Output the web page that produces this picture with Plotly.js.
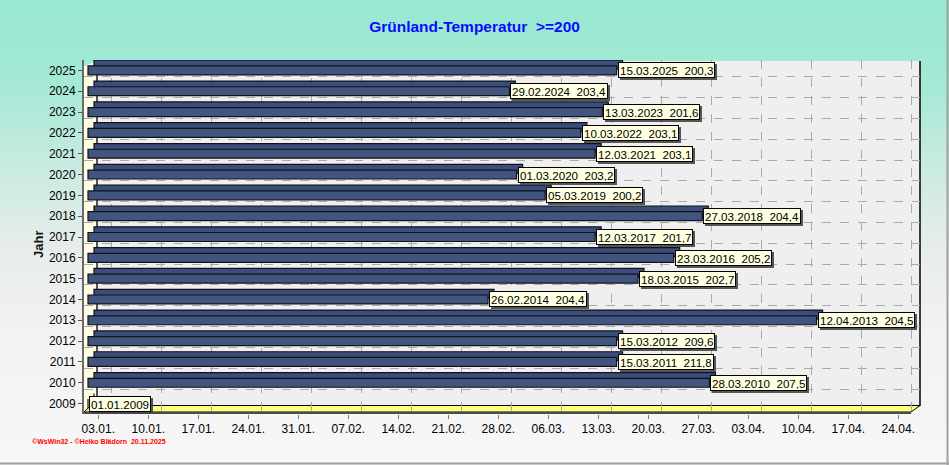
<!DOCTYPE html>
<html>
<head>
<meta charset="utf-8">
<script src="https://cdn.plot.ly/plotly-3.0.1.min.js"></script>
<style>
  html, body { margin: 0; padding: 0; }
  #chart {
    width: 949px; height: 465px;
    background: linear-gradient(to bottom, #98e8d1 0%, #a4e9d6 18%, #cdebe2 38%, #e9eded 55%, #f2f2f2 72%, #f7f7f7 100%);
  }
</style>
</head>
<body>
<div id="chart"></div>
<script>
// ---- data ----
const years = [2009, 2010, 2011, 2012, 2013, 2014, 2015, 2016, 2017, 2018, 2019, 2020, 2021, 2022, 2023, 2024, 2025];
const dates = ['01.01.2009', '28.03.2010', '15.03.2011', '15.03.2012', '12.04.2013', '26.02.2014', '18.03.2015',
               '23.03.2016', '12.03.2017', '27.03.2018', '05.03.2019', '01.03.2020', '12.03.2021', '10.03.2022',
               '13.03.2023', '29.02.2024', '15.03.2025'];
const values = [null, 207.5, 211.8, 209.6, 204.5, 204.4, 202.7, 205.2, 201.7, 204.4, 200.2, 203.2, 203.1, 203.1, 201.6, 203.4, 200.3];
const tickLabels = ['03.01.', '10.01.', '17.01.', '24.01.', '31.01.', '07.02.', '14.02.', '21.02.', '28.02.',
                    '06.03.', '13.03.', '20.03.', '27.03.', '03.04.', '10.04.', '17.04.', '24.04.'];

// day index since 01.01 on a leap-year calendar
function dayIndex(s) {
  const p = s.split('.');
  const d = parseInt(p[0], 10), m = parseInt(p[1], 10);
  return (Date.UTC(2000, m - 1, d) - Date.UTC(2000, 0, 1)) / 864e5;
}
const barEnd = dates.map(dayIndex);
const tickVals = tickLabels.map(dayIndex);
const labelText = dates.map((d, i) => values[i] == null ? d : d + '  ' + values[i].toFixed(1).replace('.', ','));

// ---- geometry (pixels) ----
const Wd = 949, Ht = 465;
const L = 84, R = 920, T = 60, B = 414;
const PW = R - L, PH = B - T;
const s = 50 / 7;                 // px per day
const catPx = PH / 17;            // px per year
const X = p => (p - L) / PW;
const Y = p => (B - p) / PH;
const xr = zero => [(L - zero) / s, (R - zero) / s];
const yLo = 2008.5, yHi = 2025.5;

const FONT = 'Liberation Sans, Arial, sans-serif';

const traces = [
  // back (depth) bars -> top face
  { type: 'bar', orientation: 'h', y: years, x: barEnd, xaxis: 'x', yaxis: 'y', width: 0.43,
    marker: { color: '#3b4e7b', line: { color: '#10131c', width: 1.2 } }, hoverinfo: 'skip', showlegend: false },
  // front bars
  { type: 'bar', orientation: 'h', y: years, x: barEnd, xaxis: 'x2', yaxis: 'y2', width: 0.43,
    marker: { color: '#41557f', line: { color: '#10131c', width: 1.2 } }, hoverinfo: 'skip', showlegend: false },
  { type: 'scatter', x: [], y: [], xaxis: 'x3', yaxis: 'y2', hoverinfo: 'skip', showlegend: false },
  { type: 'scatter', x: [], y: [], xaxis: 'x4', yaxis: 'y3', hoverinfo: 'skip', showlegend: false }
];

const annotations = [];
years.forEach((yr, i) => {
  annotations.push({ x: barEnd[i], y: yr, xref: 'x2', yref: 'y2', xanchor: 'left', yanchor: 'middle',
    text: labelText[i], showarrow: false, font: { family: FONT, size: 11.6, color: '#000' },
    bgcolor: '#ffffe1', borderpad: 1, borderwidth: 1, bordercolor: '#000', xshift: 1, height: 12 });
});
annotations.push({ x: X(38), y: Y(245), xref: 'paper', yref: 'paper', xanchor: 'center', yanchor: 'middle',
  text: '<b>Jahr</b>', textangle: -90, showarrow: false, font: { family: FONT, size: 13, color: '#111' } });
annotations.push({ x: X(30), y: Y(441), xref: 'paper', yref: 'paper', xanchor: 'left', yanchor: 'middle',
  text: '<b>©WsWin32 - ©Heiko Blädorn  20.11.2025</b>', showarrow: false, font: { family: FONT, size: 7, color: '#ff0000' } });

const shapes = [
  // back wall
  { type: 'rect', xref: 'paper', yref: 'paper', x0: X(97), x1: X(920), y0: Y(408), y1: Y(61), layer: 'below',
    fillcolor: '#efefef', line: { width: 0 } },
  // side wall
  { type: 'path', xref: 'paper', yref: 'paper', layer: 'below', fillcolor: '#fffde2', line: { width: 0 },
    path: `M ${X(84)},${Y(66.5)} L ${X(97)},${Y(61)} L ${X(97)},${Y(408)} L ${X(84)},${Y(413)} Z` },
  // floor
  { type: 'path', xref: 'paper', yref: 'paper', layer: 'below', fillcolor: '#ffff80', line: { color: '#000', width: 1 },
    path: `M ${X(84)},${Y(412)} L ${X(91)},${Y(405.5)} L ${X(920)},${Y(405.5)} L ${X(911)},${Y(412)} Z` },
  { type: 'line', xref: 'paper', yref: 'paper', x0: X(84), x1: X(911), y0: Y(413), y1: Y(413), layer: 'below',
    line: { color: '#4a4a4a', width: 2 } },
  // wall edges
  { type: 'line', xref: 'paper', yref: 'paper', x0: X(97), x1: X(97), y0: Y(406), y1: Y(61), layer: 'below',
    line: { color: '#000', width: 1.3 } },
  { type: 'line', xref: 'paper', yref: 'paper', x0: X(920), x1: X(920), y0: Y(406), y1: Y(61), layer: 'below',
    line: { color: '#000', width: 1.5 } },
  // image frame
  { type: 'line', xref: 'paper', yref: 'paper', x0: X(0), x1: X(949), y0: Y(463.5), y1: Y(463.5),
    line: { color: '#a0a0a0', width: 2 } },
  { type: 'line', xref: 'paper', yref: 'paper', x0: X(947.5), x1: X(947.5), y0: Y(0), y1: Y(465),
    line: { color: '#a0a0a0', width: 2 } }
];

const hidden = { showticklabels: false, ticks: '', zeroline: false, showline: false, showgrid: false, fixedrange: true };
const backShiftUp = 5.7 / catPx;
const gridShiftDown = 6.3 / catPx;

const layout = {
  width: Wd, height: Ht,
  margin: { l: L, r: Wd - R, t: T, b: Ht - B, pad: 0 },
  paper_bgcolor: 'rgba(0,0,0,0)', plot_bgcolor: 'rgba(0,0,0,0)',
  showlegend: false,
  title: { text: 'Grünland-Temperatur  >=200', font: { family: FONT, size: 15.5, color: '#0a0aff', weight: 'bold' },
    x: 0.5, xanchor: 'center', y: 1 - 27 / Ht, yanchor: 'middle' },
  // back bars
  xaxis: Object.assign({}, hidden, { range: xr(94) }),
  yaxis: Object.assign({}, hidden, { range: [yLo - backShiftUp, yHi - backShiftUp] }),
  // front axes
  xaxis2: Object.assign({}, hidden, { range: xr(88), overlaying: 'x', anchor: 'y2' }),
  yaxis2: Object.assign({}, hidden, { range: [yLo, yHi], overlaying: 'y', anchor: 'x2',
    showticklabels: true, tickmode: 'array', tickvals: years, ticktext: years.map(String),
    ticks: 'outside', ticklen: 4, tickcolor: '#555', showline: true, linecolor: '#6a6a6a', linewidth: 2,
    tickfont: { family: FONT, size: 12, color: '#000' } }),
  // tick label axis
  xaxis3: Object.assign({}, hidden, { range: xr(84), overlaying: 'x', anchor: 'y2',
    showticklabels: true, tickmode: 'array', tickvals: tickVals, ticktext: tickLabels,
    ticks: 'outside', ticklen: 4, tickcolor: '#777', tickfont: { family: FONT, size: 12, color: '#000' } }),
  // back wall grid (vertical)
  xaxis4: Object.assign({}, hidden, { range: xr(97.4), overlaying: 'x', anchor: 'y3', showgrid: true,
    tickmode: 'array', tickvals: tickVals, gridcolor: '#a9a9a9', griddash: 'dash', gridwidth: 1 }),
  // back wall grid (horizontal)
  yaxis3: Object.assign({}, hidden, { range: [yLo + gridShiftDown, yHi + gridShiftDown], overlaying: 'y', anchor: 'x4',
    showgrid: true, tickmode: 'array', tickvals: years.slice(1), gridcolor: '#a9a9a9', griddash: 'dash', gridwidth: 1 }),
  bargap: 0,
  barmode: 'overlay',
  shapes: shapes,
  annotations: annotations
};

Plotly.newPlot('chart', traces, layout, { staticPlot: true, displayModeBar: false }).then(gd => {
  // drop shadow behind value label boxes
  const NS = 'http://www.w3.org/2000/svg';
  const svg = gd.querySelector('svg.main-svg');
  let defs = svg.querySelector('defs');
  if (!defs) { defs = document.createElementNS(NS, 'defs'); svg.insertBefore(defs, svg.firstChild); }
  const f = document.createElementNS(NS, 'filter');
  f.setAttribute('id', 'lblshadow');
  f.setAttribute('x', '-10%'); f.setAttribute('y', '-30%');
  f.setAttribute('width', '130%'); f.setAttribute('height', '180%');
  const ds = document.createElementNS(NS, 'feDropShadow');
  ds.setAttribute('dx', '2'); ds.setAttribute('dy', '2'); ds.setAttribute('stdDeviation', '0.4');
  ds.setAttribute('flood-color', '#444'); ds.setAttribute('flood-opacity', '0.9');
  f.appendChild(ds); defs.appendChild(f);
  gd.querySelectorAll('g.annotation rect.bg').forEach(r => {
    const fill = (r.style.fill || r.getAttribute('fill') || '').toLowerCase();
    if (fill.indexOf('255, 255, 225') >= 0 || fill.indexOf('ffffe1') >= 0) r.setAttribute('filter', 'url(#lblshadow)');
  });
});
</script>
</body>
</html>
